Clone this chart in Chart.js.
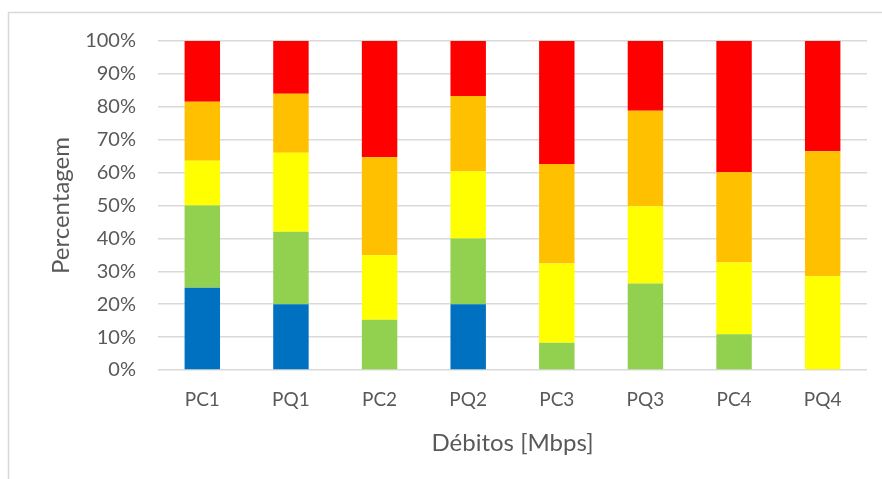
<!DOCTYPE html>
<html>
<head>
<meta charset="utf-8">
<script src="https://cdn.jsdelivr.net/npm/chart.js@4/dist/chart.umd.min.js"></script>
<style>
  html, body { margin: 0; padding: 0; background: #ffffff; }
  canvas { display: block; }
</style>
</head>
<body>
<canvas id="c" width="882" height="479"></canvas>
<script>
// Categories (débitos) and the share of each class, in percent
const categories = ['PC1', 'PQ1', 'PC2', 'PQ2', 'PC3', 'PQ3', 'PC4', 'PQ4'];
const serie1 = [25, 20, 0, 20, 0, 0, 0, 0];
const serie2 = [25, 22, 15.3, 20, 8.3, 26.3, 10.9, 0];
const serie3 = [13.6, 24, 19.6, 20.3, 24.1, 23.5, 21.8, 28.5];
const serie4 = [17.9, 18, 29.8, 23, 30.2, 29, 27.4, 38];
const serie5 = [18.5, 16, 35.3, 16.7, 37.4, 21.2, 39.9, 33.5];
const yTicks = [0, 10, 20, 30, 40, 50, 60, 70, 80, 90, 100];

const colors = ['#0070C0', '#92D050', '#FFFF00', '#FFC000', '#FF0000'];
const seriesList = [serie1, serie2, serie3, serie4, serie5];

const FONT = 'Lato, "Liberation Sans", sans-serif';
const TEXT = '#595959';

// Light frame around the whole chart
const framePlugin = {
  id: 'frame',
  beforeDraw(chart) {
    const ctx = chart.ctx;
    ctx.save();
    ctx.fillStyle = '#ffffff';
    ctx.fillRect(0, 0, chart.width, chart.height);
    ctx.strokeStyle = '#d9d9d9';
    ctx.lineWidth = 1.5;
    ctx.strokeRect(8.5, 12.5, chart.width + 20, chart.height + 20);
    ctx.restore();
  }
};

new Chart(document.getElementById('c'), {
  type: 'bar',
  data: {
    labels: categories,
    datasets: seriesList.map((vals, i) => ({
      label: 'Série ' + (i + 1),
      data: vals,
      backgroundColor: colors[i],
      borderWidth: 0,
      barPercentage: 0.4,
      categoryPercentage: 1.0
    }))
  },
  options: {
    responsive: false,
    devicePixelRatio: 1,
    animation: false,
    layout: { padding: { top: 41, right: 15, left: 0, bottom: 0 } },
    plugins: {
      legend: { display: false },
      tooltip: { enabled: false }
    },
    scales: {
      x: {
        stacked: true,
        grid: { display: false, drawTicks: false },
        border: { display: false },
        ticks: { color: TEXT, font: { family: FONT, size: 19 }, padding: 18 },
        title: {
          display: true, text: 'Débitos [Mbps]', color: TEXT,
          font: { family: FONT, size: 24 }, padding: { top: 0, bottom: 21 }
        },
        afterFit(scale) { scale.height = 479 - 370; }
      },
      y: {
        stacked: true,
        min: 0,
        max: 100,
        afterBuildTicks(scale) { scale.ticks = yTicks.map(v => ({ value: v })); },
        grid: { color: '#d9d9d9', lineWidth: 1.5, drawTicks: false },
        border: { display: false },
        ticks: {
          color: TEXT, font: { family: FONT, size: 20 }, padding: 22,
          callback: v => v + '%'
        },
        title: {
          display: true, text: 'Percentagem', color: TEXT,
          font: { family: FONT, size: 24 }, padding: { top: 47, bottom: 0 }
        },
        afterFit(scale) { scale.width = 158; }
      }
    }
  },
  plugins: [framePlugin]
});
</script>
</body>
</html>
